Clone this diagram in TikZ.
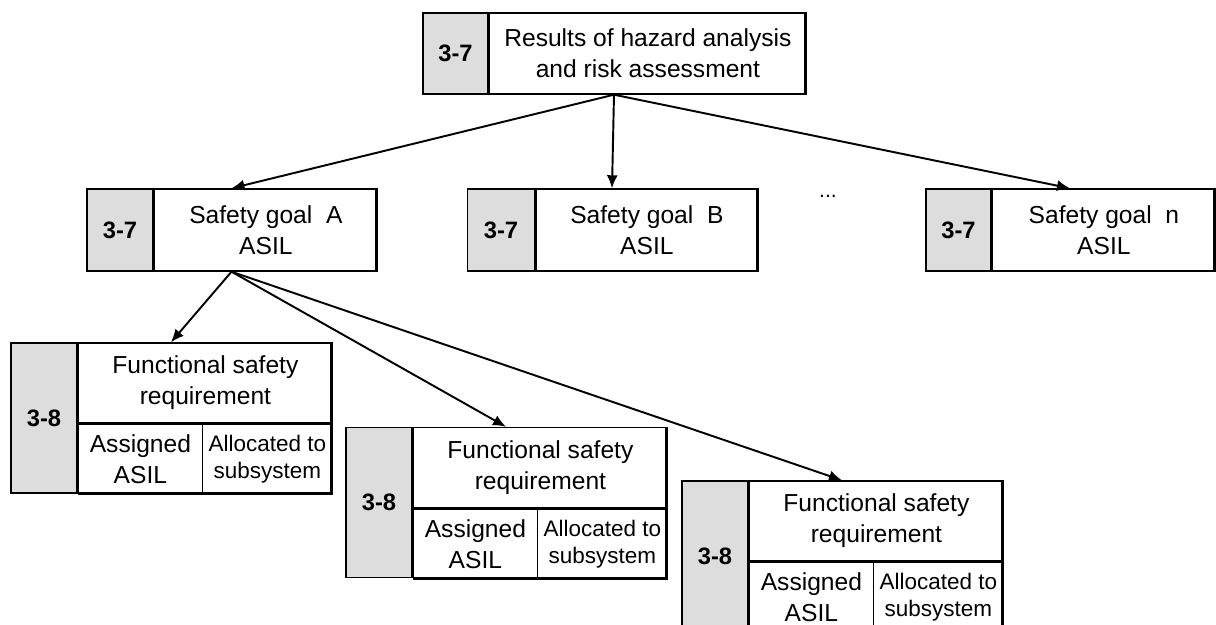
\documentclass[tikz,border=0pt]{standalone}
\usepackage{fontspec}
\setmainfont{Liberation Sans}
\usetikzlibrary{arrows.meta,positioning}
\definecolor{numgrey}{RGB}{221,221,221}
\tikzset{
  frame/.style={rectangle, draw, line width=0.8pt, inner sep=0pt},
  numbox/.style={rectangle, draw, line width=0.8pt, fill=numgrey, inner sep=0pt,
    font=\fontsize{13.5}{16}\selectfont\bfseries},
  txtbox/.style={rectangle, draw, line width=0.8pt, inner sep=0pt, align=center,
    font=\fontsize{14}{17.5}\selectfont},
  smallbox/.style={txtbox, font=\fontsize{12.8}{15.5}\selectfont},
  arr/.style={-{Latex[length=2.6mm,width=2.2mm]}, line width=1.1pt}
}
\begin{document}
\begin{tikzpicture}
  \useasboundingbox (0,0) rectangle (24.32,-12.5);

  % Hazard analysis
  \node (hara) at (12.28,-1.07) [frame, minimum width=7.64cm, minimum height=1.62cm] {};
  \node (haranum) at (hara.north west) [numbox, anchor=north west, minimum width=1.3cm, minimum height=1.62cm] {3-7};
  \node (haratext) [txtbox, right=0pt of haranum, minimum width=6.34cm, minimum height=1.62cm] {Results of hazard analysis\\and risk assessment};

  % Safety goals
  \node (goalA) at (4.63,-4.6) [frame, minimum width=5.78cm, minimum height=1.64cm] {};
  \node (goalAnum) at (goalA.north west) [numbox, anchor=north west, minimum width=1.32cm, minimum height=1.64cm] {3-7};
  \node (goalAtext) [txtbox, right=0pt of goalAnum, minimum width=4.46cm, minimum height=1.64cm] {Safety goal\ \ A\\ASIL};

  \node (goalB) at (12.24,-4.6) [frame, minimum width=5.78cm, minimum height=1.64cm] {};
  \node (goalBnum) at (goalB.north west) [numbox, anchor=north west, minimum width=1.34cm, minimum height=1.64cm] {3-7};
  \node (goalBtext) [txtbox, right=0pt of goalBnum, minimum width=4.44cm, minimum height=1.64cm] {Safety goal\ \ B\\ASIL};

  \node (dots) at (16.56,-3.92) [font=\fontsize{12}{14}\selectfont] {...};

  \node (goalN) at (21.4,-4.6) [frame, minimum width=5.76cm, minimum height=1.64cm] {};
  \node (goalNnum) at (goalN.north west) [numbox, anchor=north west, minimum width=1.3cm, minimum height=1.64cm] {3-7};
  \node (goalNtext) [txtbox, right=0pt of goalNnum, minimum width=4.46cm, minimum height=1.64cm] {Safety goal\ \ n\\ASIL};

  % Functional safety requirements
  \foreach \n/\x/\y in {fsrA/3.42/-8.36, fsrB/10.12/-10.05, fsrC/16.84/-11.12} {
    \node (\n) at (\x,\y) [frame, minimum width=6.4cm, minimum height=3cm] {};
    \node (\n num) at (\n.north west) [numbox, anchor=north west, minimum width=1.32cm, minimum height=3cm] {3-8};
    \node (\n req) at (\n num.north east) [txtbox, anchor=north west, minimum width=5.08cm, minimum height=1.6cm] {Functional safety\\requirement};
    \node (\n asil) at (\n req.south west) [txtbox, anchor=north west, minimum width=2.48cm, minimum height=1.4cm] {Assigned\\ASIL};
    \node (\n sub) at (\n req.south east) [smallbox, anchor=north east, minimum width=2.6cm, minimum height=1.4cm] {Allocated to\\subsystem};
  }

  % Edges
  \draw[arr] (hara.south) -- (goalA.north);
  \draw[arr] (hara.south) -- (goalB.north);
  \draw[arr] (hara.south) -- (goalN.north);
  \draw[arr] (goalA.south) -- (fsrA.north);
  \draw[arr] (goalA.south) -- (fsrB.north);
  \draw[arr] (goalA.south) -- (fsrC.north);
\end{tikzpicture}
\end{document}
